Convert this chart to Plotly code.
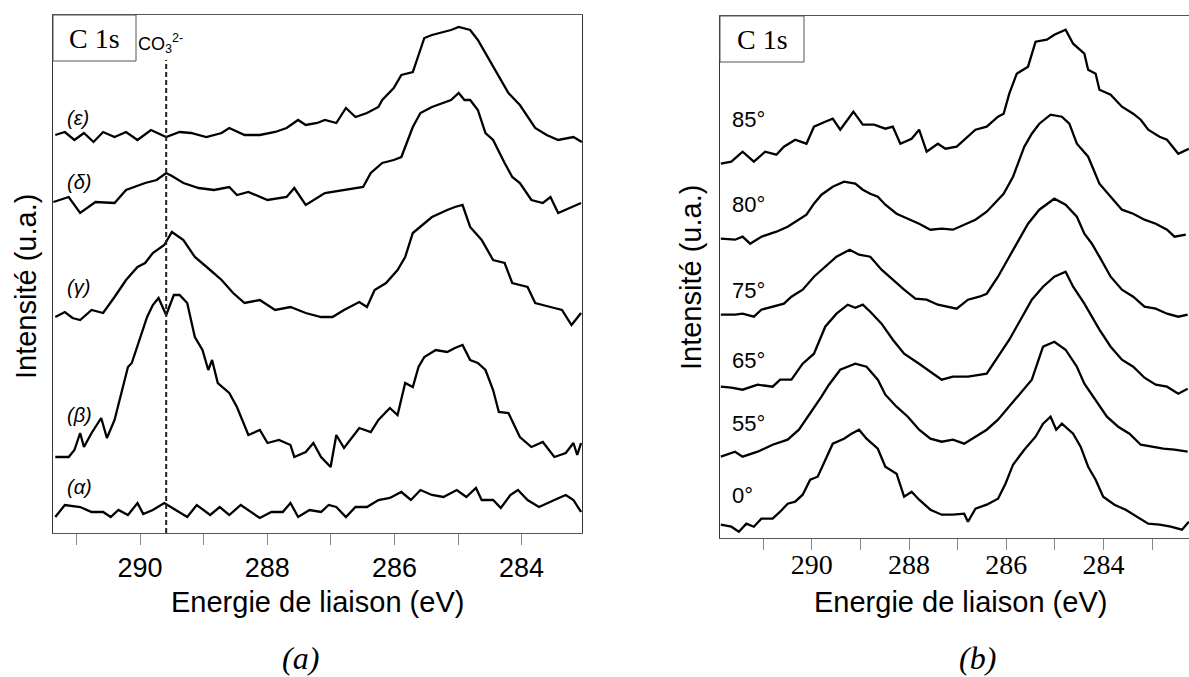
import plotly.graph_objects as go

W, H = 1189, 677

# ---------------- Panel (a) data (binding energy eV, intensity a.u.) ----------------
eps_x = [291.334, 291.184, 291.033, 290.883, 290.733, 290.582, 290.402, 290.221, 290.041, 289.830,
         289.590, 289.379, 289.199, 288.958, 288.718, 288.598, 288.357, 288.117, 287.876, 287.696,
         287.515, 287.395, 287.214, 287.094, 286.914, 286.763, 286.613, 286.432, 286.252, 286.192,
         286.011, 285.891, 285.711, 285.591, 285.530, 285.410, 285.230, 285.110, 284.989, 284.809,
         284.688, 284.508, 284.388, 284.207, 284.027, 283.786, 283.606, 283.425, 283.185, 283.053]
eps_y = [398, 401, 393, 400, 391, 401, 396, 401, 393, 403,
         396, 401, 400, 396, 400, 405, 398, 398, 401, 405,
         413, 408, 410, 413, 410, 425, 416, 420, 426, 433,
         445, 458, 461, 483, 495, 498, 501, 503, 506, 503,
         493, 473, 460, 440, 428, 405, 398, 393, 396, 391]

del_x = [291.364, 291.123, 290.943, 290.702, 290.402, 290.221, 289.921, 289.740, 289.590, 289.500,
         289.319, 289.079, 288.838, 288.598, 288.477, 288.297, 287.996, 287.696, 287.575, 287.395,
         287.094, 286.793, 286.493, 286.372, 286.192, 286.011, 285.891, 285.711, 285.591, 285.410,
         285.230, 285.110, 284.989, 284.899, 284.809, 284.688, 284.568, 284.448, 284.267, 284.147,
         284.027, 283.846, 283.666, 283.546, 283.425, 283.245, 283.065]
del_y = [331, 336, 320, 331, 330, 343, 350, 353, 360, 357,
         350, 345, 343, 346, 338, 341, 333, 336, 345, 328,
         340, 343, 346, 360, 370, 373, 376, 406, 420, 426,
         430, 433, 440, 433, 433, 423, 400, 393, 370, 356,
         350, 333, 330, 336, 320, 325, 330]

gam_x = [291.334, 291.184, 291.063, 290.943, 290.763, 290.582, 290.402, 290.221, 290.041, 289.921,
         289.800, 289.620, 289.500, 289.319, 289.139, 289.019, 288.898, 288.718, 288.537, 288.357,
         288.117, 287.876, 287.635, 287.395, 287.154, 286.974, 286.793, 286.553, 286.432, 286.312,
         286.132, 285.951, 285.831, 285.711, 285.591, 285.410, 285.170, 285.049, 284.929, 284.809,
         284.628, 284.448, 284.267, 284.147, 283.906, 283.786, 283.546, 283.365, 283.215, 283.065]
gam_y = [216, 221, 215, 213, 223, 220, 236, 253, 266, 270,
         280, 288, 301, 293, 276, 270, 263, 253, 240, 230,
         233, 223, 226, 220, 216, 216, 223, 231, 226, 243,
         250, 263, 276, 300, 306, 316, 323, 326, 328, 306,
         293, 273, 270, 250, 246, 230, 226, 223, 208, 220]

bet_x = [291.334, 291.123, 291.033, 290.943, 290.883, 290.763, 290.612, 290.522, 290.402, 290.281,
         290.191, 290.131, 290.071, 289.981, 289.890, 289.800, 289.710, 289.590, 289.470, 289.379,
         289.259, 289.139, 289.019, 288.928, 288.868, 288.778, 288.598, 288.477, 288.357, 288.297,
         288.117, 287.996, 287.816, 287.635, 287.575, 287.395, 287.275, 287.154, 287.004, 286.914,
         286.793, 286.553, 286.372, 286.252, 286.072, 285.951, 285.831, 285.711, 285.621, 285.530,
         285.350, 285.170, 285.049, 284.929, 284.809, 284.688, 284.568, 284.448, 284.358, 284.207,
         284.027, 283.846, 283.666, 283.485, 283.305, 283.185, 283.125, 283.065]
bet_y = [76, 76, 83, 100, 86, 100, 115, 95, 113, 143,
         166, 170, 181, 198, 216, 228, 235, 218, 238, 238,
         230, 196, 183, 163, 173, 150, 140, 126, 106, 98,
         103, 90, 93, 88, 76, 81, 90, 76, 66, 98,
         85, 105, 101, 113, 125, 118, 150, 146, 166, 176,
         183, 181, 185, 188, 173, 170, 163, 143, 121, 120,
         96, 86, 91, 76, 80, 90, 78, 90]

alp_x = [291.334, 291.184, 290.943, 290.763, 290.582, 290.462, 290.341, 290.191, 290.041, 289.951,
         289.800, 289.620, 289.440, 289.259, 289.109, 288.898, 288.748, 288.598, 288.417, 288.297,
         288.117, 287.936, 287.756, 287.635, 287.515, 287.335, 287.154, 287.034, 286.914, 286.763,
         286.613, 286.432, 286.252, 286.072, 285.891, 285.741, 285.591, 285.410, 285.230, 285.019,
         284.869, 284.718, 284.628, 284.448, 284.327, 284.177, 284.057, 283.906, 283.726, 283.485,
         283.305, 283.185, 283.065]
alp_y = [16, 28, 26, 21, 21, 16, 23, 18, 30, 19,
         23, 30, 23, 16, 28, 18, 26, 18, 28, 23,
         15, 21, 21, 30, 16, 23, 21, 28, 26, 16,
         26, 26, 33, 35, 41, 33, 43, 38, 36, 43,
         36, 45, 33, 33, 25, 38, 43, 33, 26, 33,
         38, 33, 21]

co3_energy = 289.59
co3_line_top = 473

# ---------------- Panel (b) data ----------------
a85_x = [291.873, 291.657, 291.425, 291.193, 290.961, 290.730, 290.575, 290.343, 290.111, 289.957,
         289.725, 289.570, 289.416, 289.261, 289.145, 288.952, 288.720, 288.488, 288.334, 288.179,
         287.947, 287.793, 287.638, 287.407, 287.252, 287.020, 286.866, 286.634, 286.402, 286.170,
         286.054, 285.938, 285.784, 285.552, 285.397, 285.165, 285.011, 284.779, 284.624, 284.393,
         284.315, 284.161, 284.083, 283.852, 283.620, 283.388, 283.233, 283.079, 282.847, 282.692,
         282.461, 282.306, 282.244]
a85_y = [374, 376, 386, 376, 386, 383, 391, 398, 394, 411,
         416, 419, 408, 418, 426, 413, 413, 409, 411, 394,
         399, 408, 386, 394, 389, 391, 398, 408, 411, 421,
         424, 444, 464, 471, 496, 498, 503, 508, 494, 484,
         468, 464, 448, 443, 431, 424, 418, 408, 401, 398,
         384, 388, 389]

a80_x = [291.873, 291.580, 291.425, 291.270, 291.039, 290.730, 290.498, 290.266, 290.111, 289.957,
         289.802, 289.570, 289.339, 289.107, 288.952, 288.798, 288.643, 288.488, 288.257, 288.025,
         287.793, 287.561, 287.329, 287.097, 286.866, 286.634, 286.402, 286.170, 286.054, 285.861,
         285.629, 285.474, 285.320, 285.088, 284.856, 284.702, 284.547, 284.315, 284.083, 283.852,
         283.620, 283.388, 283.156, 282.924, 282.692, 282.538, 282.306]
a80_y = [299, 298, 301, 294, 301, 306, 311, 318, 323, 334,
         343, 351, 356, 354, 348, 344, 341, 333, 324, 319,
         314, 308, 309, 308, 313, 318, 326, 338, 344, 361,
         391, 404, 414, 423, 421, 414, 394, 381, 354, 341,
         328, 324, 318, 314, 308, 301, 303]

a75_x = [291.873, 291.580, 291.425, 291.193, 291.039, 290.807, 290.575, 290.420, 290.189, 289.957,
         289.725, 289.493, 289.223, 289.029, 288.798, 288.566, 288.334, 288.102, 287.870, 287.638,
         287.407, 287.175, 287.020, 286.788, 286.556, 286.402, 286.170, 285.938, 285.784, 285.552,
         285.320, 285.011, 284.779, 284.547, 284.393, 284.238, 284.083, 283.852, 283.620, 283.388,
         283.156, 282.924, 282.692, 282.461, 282.267]
a75_y = [223, 223, 224, 221, 228, 231, 234, 241, 248, 261,
         271, 281, 288, 283, 281, 268, 258, 248, 239, 238,
         233, 231, 229, 238, 241, 244, 261, 281, 294, 314,
         328, 339, 333, 321, 304, 294, 281, 261, 248, 241,
         231, 229, 224, 221, 223]

a65_x = [291.873, 291.657, 291.425, 291.116, 290.807, 290.652, 290.420, 290.189, 289.957, 289.725,
         289.493, 289.261, 289.107, 288.952, 288.798, 288.566, 288.334, 288.102, 287.793, 287.561,
         287.329, 287.097, 286.788, 286.402, 286.170, 285.938, 285.706, 285.474, 285.243, 285.011,
         284.779, 284.624, 284.393, 284.238, 284.083, 283.852, 283.620, 283.388, 283.156, 282.924,
         282.692, 282.461, 282.267]
a65_y = [151, 150, 148, 153, 151, 158, 158, 174, 184, 211,
         224, 233, 230, 233, 226, 214, 198, 184, 174, 166,
         158, 161, 161, 164, 181, 198, 218, 238, 251, 261,
         266, 251, 234, 221, 208, 191, 178, 171, 160, 153,
         151, 144, 149]

a55_x = [291.873, 291.580, 291.425, 291.116, 290.807, 290.498, 290.266, 290.034, 289.802, 289.648,
         289.416, 289.107, 288.875, 288.643, 288.488, 288.257, 288.025, 287.793, 287.561, 287.329,
         287.097, 286.866, 286.634, 286.402, 286.170, 285.938, 285.706, 285.474, 285.243, 285.011,
         284.779, 284.547, 284.393, 284.161, 283.929, 283.697, 283.465, 283.233, 283.002, 282.770,
         282.538, 282.267]
a55_y = [81, 86, 81, 86, 93, 98, 108, 124, 141, 153,
         168, 174, 171, 158, 143, 131, 121, 108, 99, 96,
         98, 94, 101, 108, 118, 131, 144, 158, 191, 196,
         188, 171, 154, 138, 121, 111, 104, 93, 91, 89,
         88, 86]

a0_x = [291.873, 291.657, 291.502, 291.348, 291.193, 291.039, 290.807, 290.652, 290.498, 290.343,
        290.189, 290.034, 289.880, 289.725, 289.570, 289.339, 289.184, 289.029, 288.875, 288.643,
        288.488, 288.257, 288.102, 287.947, 287.793, 287.561, 287.329, 287.097, 286.866, 286.788,
        286.634, 286.402, 286.170, 286.016, 285.861, 285.629, 285.397, 285.243, 285.088, 284.972,
        284.856, 284.624, 284.470, 284.315, 284.161, 284.006, 283.774, 283.543, 283.311, 283.079,
        282.847, 282.615, 282.384, 282.244]
a0_y = [13, 11, 6, 14, 11, 19, 19, 26, 34, 36,
        43, 58, 61, 78, 94, 99, 104, 108, 99, 89,
        71, 64, 41, 46, 38, 28, 23, 23, 24, 16,
        29, 33, 39, 54, 73, 88, 101, 114, 121, 108,
        114, 104, 91, 71, 58, 41, 33, 28, 21, 14,
        13, 11, 8, 16]

labels_a = ["(\u03b5)", "(\u03b4)", "(\u03b3)", "(\u03b2)", "(\u03b1)"]
labels_b = ["85\u00b0", "80\u00b0", "75\u00b0", "65\u00b0", "55\u00b0", "0\u00b0"]

major_tick0, major_dtick = 284, 2
minor_tick0, minor_dtick = 283, 1

range_a = [291.37, 283.05]
range_b = [291.89, 282.24]

# ---------------- figure ----------------
def px(x):
    return x / W

def py(y):
    return 1 - y / H

fig = go.Figure()
line_style = dict(color="black", width=2.3)

for xs, ys in [(eps_x, eps_y), (del_x, del_y), (gam_x, gam_y), (bet_x, bet_y), (alp_x, alp_y)]:
    fig.add_trace(go.Scatter(x=xs, y=ys, mode="lines", line=line_style,
                             xaxis="x", yaxis="y", showlegend=False, hoverinfo="skip"))

fig.add_trace(go.Scatter(x=[co3_energy, co3_energy], y=[0, co3_line_top], mode="lines",
                         line=dict(color="#222", width=2, dash="5px,3px"),
                         xaxis="x", yaxis="y", showlegend=False, hoverinfo="skip"))

# panel (b): the first five spectra use x2 (tick marks), the 0° spectrum uses the
# overlaying x3 axis (same range) which carries the serif tick labels
b_series = [(a85_x, a85_y, "x2"), (a80_x, a80_y, "x2"), (a75_x, a75_y, "x2"),
            (a65_x, a65_y, "x2"), (a55_x, a55_y, "x2"), (a0_x, a0_y, "x3")]
for xs, ys, xa in b_series:
    fig.add_trace(go.Scatter(x=xs, y=ys, mode="lines", line=line_style,
                             xaxis=xa, yaxis="y2", showlegend=False, hoverinfo="skip"))

axis_common = dict(showgrid=False, zeroline=False, ticks="outside", ticklen=11,
                   tickcolor="#888", tickwidth=1, showline=True, linecolor="#555", linewidth=1,
                   tickmode="linear", tick0=major_tick0, dtick=major_dtick,
                   minor=dict(ticks="outside", ticklen=11, tickcolor="#888", tickwidth=1,
                              tick0=minor_tick0, dtick=minor_dtick, showgrid=False))

fig.update_layout(
    width=W, height=H, margin=dict(l=0, r=0, t=0, b=0),
    paper_bgcolor="white", plot_bgcolor="white",
    xaxis=dict(domain=[px(53), px(582)], range=range_a, anchor="y", mirror=True,
               tickfont=dict(family="Liberation Sans, Arial", size=27, color="black"),
               **axis_common),
    yaxis=dict(domain=[py(533), py(15)], range=[0, 518], anchor="x",
               showticklabels=False, ticks="", showgrid=False, zeroline=False,
               showline=True, linecolor="#333", linewidth=1, mirror=True),
    xaxis2=dict(domain=[px(720), 1.0], range=range_b, anchor="y2", mirror=True,
                showticklabels=False, **axis_common),
    xaxis3=dict(range=range_b, anchor="y2", overlaying="x2",
                side="bottom", showgrid=False, zeroline=False, showline=False, ticks="",
                tickmode="linear", tick0=major_tick0, dtick=major_dtick,
                ticklabelstandoff=7,
                tickfont=dict(family="Liberation Serif, Times New Roman", size=28, color="black")),
    yaxis2=dict(domain=[py(537.7), py(16)], range=[0, 521.7], anchor="x2",
                showticklabels=False, ticks="", showgrid=False, zeroline=False,
                showline=True, linecolor="#333", linewidth=1, mirror=False),
)

sans = "Liberation Sans, Arial"
serif = "Liberation Serif, Times New Roman"
ann = []

def add_text(xpix, ypix, text, family, size, xanchor="center", angle=0):
    ann.append(dict(x=px(xpix), y=py(ypix), xref="paper", yref="paper", text=text,
                    showarrow=False, textangle=angle,
                    font=dict(family=family, size=size, color="black"),
                    xanchor=xanchor, yanchor="middle"))

# axis titles
add_text(317, 602, "Energie de liaison (eV)", sans, 29)
add_text(960, 602, "Energie de liaison (eV)", sans, 29)
add_text(26, 287, "Intensité (u.a.)", sans, 29, angle=-90)
add_text(691, 278, "Intensité (u.a.)", sans, 29, angle=-90)
# panel letters
add_text(300, 658, "<i>(a)</i>", serif, 32)
add_text(977, 658, "<i>(b)</i>", serif, 32)
# C 1s boxes
add_text(94.5, 38, "C 1s", serif, 28)
add_text(762, 39, "C 1s", serif, 28)
# CO3 label
add_text(136, 44, "CO<sub>3</sub><sup>2-</sup>", sans, 18, xanchor="left")
# curve labels (a)
for lab, yy in zip(labels_a, [118, 182, 287, 415, 487]):
    add_text(65, yy, "<i>" + lab + "</i>", sans, 20, xanchor="left")
# curve labels (b)
for lab, yy in zip(labels_b, [120, 205, 290, 360, 423, 495]):
    add_text(730, yy, lab, sans, 22, xanchor="left")

fig.update_layout(annotations=ann)

shapes = [
    dict(type="rect", xref="paper", yref="paper", x0=px(53), x1=px(136), y0=py(61), y1=py(15),
         line=dict(color="#555", width=1)),
    dict(type="rect", xref="paper", yref="paper", x0=px(720), x1=px(804), y0=py(62), y1=py(16),
         line=dict(color="#555", width=1)),
]
fig.update_layout(shapes=shapes)

fig.write_html("out.html", config={"displayModeBar": False},
               post_script="document.body.style.margin='0px';")
